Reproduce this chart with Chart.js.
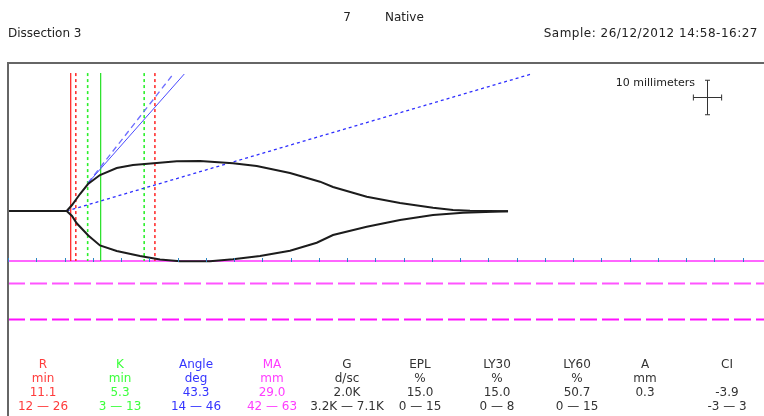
<!DOCTYPE html>
<html>
<head>
<meta charset="utf-8">
<title>TEG - Dissection 3</title>
<script src="https://cdn.jsdelivr.net/npm/chart.js@4.4.0/dist/chart.umd.min.js"></script>
<style>
  html, body { margin: 0; padding: 0; background: #fff; }
  canvas { display: block; }
</style>
</head>
<body>
<canvas id="teg" width="764" height="416"></canvas>
<script>
// trace, time in minutes / amplitude in mm
const upperTime = [0, 10.39, 11.33, 12.74, 14.16, 16.28, 19.24, 22.12, 26.32, 29.86, 33.98, 39.82, 44.02, 49.91, 55.22, 57.52, 63.49, 69.38, 75.22, 78.76, 81.77, 88.5];
const upperAmp = [0, 0, 1.74, 4.93, 7.83, 10.44, 12.47, 13.34, 13.92, 14.41, 14.5, 13.83, 13.05, 11.02, 8.5, 6.96, 4.15, 2.32, 0.96, 0.29, 0.09, -0.05];
const lowerTime = [0, 10.39, 11.33, 12.16, 14.21, 16.28, 19.24, 23.36, 26.9, 30.44, 35.75, 39.82, 44.6, 49.91, 54.64, 57.52, 63.49, 69.38, 75.22, 80.53, 85.84, 88.5];
const lowerAmp = [0, 0, -1.45, -3.57, -7.1, -10.0, -11.6, -13.05, -14.07, -14.6, -14.6, -14.0, -13.05, -11.51, -9.19, -6.96, -4.55, -2.61, -1.16, -0.49, -0.2, -0.1];

// angle construction lines [time, mm]
const angleSolid = [[14.16, 8.12], [31.2, 39.73]];
const angleHigh = [[14.16, 8.12], [28.97, 39.15]];
const angleLow = [[10.39, 0], [92.57, 39.7]];

// results table
const paramNames = ["R", "K", "Angle", "MA", "G", "EPL", "LY30", "LY60", "A", "CI"];
const paramUnits = ["min", "min", "deg", "mm", "d/sc", "%", "%", "%", "mm", ""];
const paramValues = ["11.1", "5.3", "43.3", "29.0", "2.0K", "15.0", "15.0", "50.7", "0.3", "-3.9"];
const paramRanges = ["12 \u2014 26", "3 \u2014 13", "14 \u2014 46", "42 \u2014 63", "3.2K \u2014 7.1K", "0 \u2014 15", "0 \u2014 8", "0 \u2014 15", "", "-3 \u2014 3"];

const rTime = 11.1;
const kTime = 5.3;
const rRange = [12, 26];
const kRange = [3, 13];
const maValue = 29.0;
const maRange = [42, 63];

const tickStep = 5;

const colColors = ["#ff3b3b", "#3cff3c", "#3434ff", "#ff3cff", "#333", "#333", "#333", "#333", "#333", "#333"];
const colX = [43, 120, 196, 272, 347, 420, 497, 577, 645, 727];

const FONT = "12px 'DejaVu Sans', Verdana, sans-serif";
const SMALL_FONT = "11px 'DejaVu Sans', Verdana, sans-serif";

function toPoints(xs, ys) {
    return xs.map((x, i) => ({ x: x, y: ys[i] }));
}

function pairPoints(pairs) {
    return pairs.map(p => ({ x: p[0], y: p[1] }));
}

const markTop = 40;
const markBottom = -maValue / 2;

function vline(t, color, width, dash) {
    return {
        data: [{ x: t, y: markTop }, { x: t, y: markBottom }],
        borderColor: color,
        borderWidth: width,
        borderDash: dash || []
    };
}

function hline(mm, color, width, dash) {
    return {
        data: [{ x: 0, y: mm }, { x: 200, y: mm }],
        borderColor: color,
        borderWidth: width,
        borderDash: dash || []
    };
}

const datasets = [
    { data: toPoints(upperTime, upperAmp), borderColor: "#1c1c1c", borderWidth: 2 },
    { data: toPoints(lowerTime, lowerAmp), borderColor: "#1c1c1c", borderWidth: 2 },
    { data: pairPoints(angleSolid), borderColor: "#4a4aff", borderWidth: 1 },
    { data: pairPoints(angleHigh), borderColor: "#6e6eff", borderWidth: 1.3, borderDash: [6, 4] },
    { data: pairPoints(angleLow), borderColor: "#2f2fff", borderWidth: 1.3, borderDash: [3, 3] },
    vline(rTime, "#ff1a1a", 1.2),
    vline(rRange[0], "#ff3030", 1.6, [3, 3]),
    vline(rRange[1], "#ff3030", 1.6, [3, 3]),
    vline(rTime + kTime, "#22e022", 1.2),
    vline(rTime + kRange[0], "#2cf02c", 1.6, [3, 3]),
    vline(rTime + kRange[1], "#2cf02c", 1.6, [3, 3]),
    hline(-maValue / 2, "#ff66ff", 2),
    hline(-maRange[0] / 2, "#ff55ff", 2, [17, 5]),
    hline(-maRange[1] / 2, "#ff10ff", 2, [17, 5])
];

datasets.forEach(d => {
    d.pointRadius = 0;
    d.fill = false;
    d.tension = 0;
});

const tegDecor = {
    id: "tegDecor",
    afterDatasetsDraw(chart) {
        const ctx = chart.ctx;
        const area = chart.chartArea;
        const xs = chart.scales.x;
        const ys = chart.scales.y;

        ctx.save();
        // frame
        ctx.fillStyle = "#666";
        ctx.fillRect(area.left - 1, area.top - 1, area.right - area.left + 1, 2);
        ctx.fillRect(area.left - 1, area.top - 1, 2, area.bottom - area.top + 1);

        // time ticks on the base line
        const baseY = Math.round(ys.getPixelForValue(-maValue / 2));
        ctx.strokeStyle = "#2c86c4";
        ctx.lineWidth = 1;
        for (let t = 0; t <= xs.max; t += tickStep) {
            const px = Math.round(xs.getPixelForValue(t)) + 0.5;
            ctx.beginPath();
            ctx.moveTo(px, baseY - 3);
            ctx.lineTo(px, baseY + 1);
            ctx.stroke();
        }

        // 10 mm scale cross
        const cx = 707.5;
        const cy = 97.5;
        const half = (ys.getPixelForValue(0) - ys.getPixelForValue(10)) / 2;
        const halfW = (xs.getPixelForValue(tickStep) - xs.getPixelForValue(0)) / 2;
        ctx.strokeStyle = "#333";
        ctx.beginPath();
        ctx.moveTo(cx, cy - half);
        ctx.lineTo(cx, cy + half);
        ctx.moveTo(cx - 2.5, cy - half);
        ctx.lineTo(cx + 2.5, cy - half);
        ctx.moveTo(cx - 2.5, cy + half);
        ctx.lineTo(cx + 2.5, cy + half);
        ctx.moveTo(cx - halfW, cy);
        ctx.lineTo(cx + halfW, cy);
        ctx.moveTo(cx - halfW, cy - 3);
        ctx.lineTo(cx - halfW, cy + 3);
        ctx.moveTo(cx + halfW, cy - 3);
        ctx.lineTo(cx + halfW, cy + 3);
        ctx.stroke();

        ctx.font = SMALL_FONT;
        ctx.fillStyle = "#222";
        ctx.textBaseline = "middle";
        ctx.textAlign = "right";
        ctx.fillText("10 millimeters", 695, 83);
        ctx.restore();
    },
    afterDraw(chart) {
        const ctx = chart.ctx;
        ctx.save();
        ctx.font = FONT;
        ctx.textBaseline = "middle";
        ctx.fillStyle = "#222";

        // header
        ctx.textAlign = "center";
        ctx.fillText("7", 347, 18);
        ctx.textAlign = "left";
        ctx.fillText("Native", 385, 18);
        ctx.fillText("Dissection 3", 8, 34);
        ctx.textAlign = "right";
        ctx.letterSpacing = "0.5px";
        ctx.fillText("Sample: 26/12/2012 14:58-16:27", 758, 34);
        ctx.letterSpacing = "0px";

        // results table
        ctx.textAlign = "center";
        const rows = [paramNames, paramUnits, paramValues, paramRanges];
        const rowY = [365, 379, 393, 407];
        rows.forEach((row, r) => {
            row.forEach((txt, c) => {
                ctx.fillStyle = colColors[c];
                ctx.fillText(txt, colX[c], rowY[r]);
            });
        });
        ctx.restore();
    }
};

new Chart(document.getElementById("teg").getContext("2d"), {
    type: "line",
    data: { datasets: datasets },
    options: {
        responsive: false,
        animation: false,
        events: [],
        layout: { padding: { top: 63, left: 8, right: 0, bottom: 0 } },
        plugins: {
            legend: { display: false },
            tooltip: { enabled: false },
            title: { display: false }
        },
        scales: {
            x: { type: "linear", min: 0, max: 133.8, display: false },
            y: { type: "linear", min: -59.45, max: 42.92, display: false }
        }
    },
    plugins: [tegDecor]
});
</script>
</body>
</html>
